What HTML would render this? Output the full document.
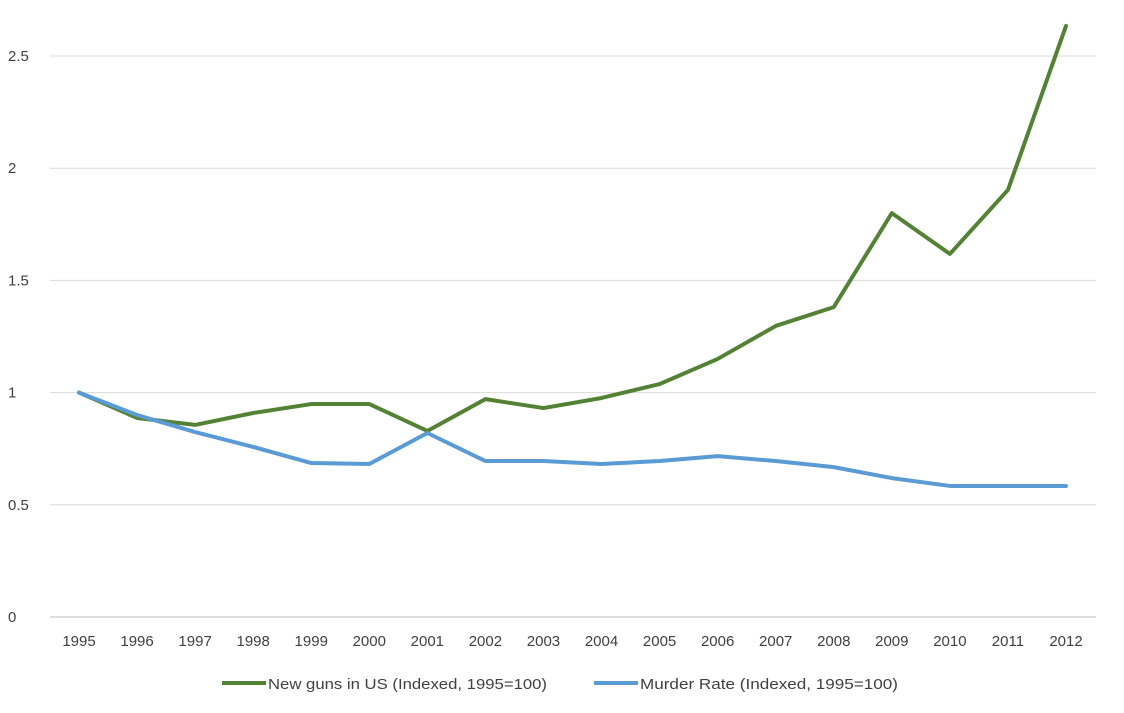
<!DOCTYPE html>
<html><head><meta charset="utf-8"><style>
html,body{margin:0;padding:0;background:#fff;}
svg{display:block;font-family:"Liberation Sans",sans-serif;}
</style></head><body>
<svg id="chart" width="1124" height="713" viewBox="0 0 1124 713" xmlns="http://www.w3.org/2000/svg">
<g id="grid"></g>
<g id="yaxis"></g>
<g id="xaxis"></g>
<g id="series"></g>
<g id="legend">
<g>
<line x1="222" y1="683" x2="266" y2="683" stroke="#548235" stroke-width="4"/>
<text x="268" y="689" font-size="15" fill="#404040" textLength="279" lengthAdjust="spacingAndGlyphs">New guns in US (Indexed, 1995=100)</text></g>
<g>
<line x1="594" y1="683" x2="638" y2="683" stroke="#5B9BD5" stroke-width="4"/>
<text x="640" y="689" font-size="15" fill="#404040" textLength="258" lengthAdjust="spacingAndGlyphs">Murder Rate (Indexed, 1995=100)</text></g>
</g>
</svg>
<script>
const categories=["1995","1996","1997","1998","1999","2000","2001","2002","2003","2004","2005","2006","2007","2008","2009","2010","2011","2012"];
const newGuns=[1.0,0.887,0.856,0.909,0.949,0.949,0.829,0.971,0.931,0.976,1.038,1.15,1.297,1.381,1.8,1.618,1.903,2.634];
const murderRate=[1.0,0.9,0.824,0.758,0.686,0.682,0.82,0.695,0.695,0.682,0.695,0.717,0.695,0.668,0.619,0.584,0.584,0.584];
const yTicks=[0,0.5,1,1.5,2,2.5];
const yTickLabels=["0","0.5","1","1.5","2","2.5"];
const NS="http://www.w3.org/2000/svg";
const x0=79,x1=1066,yBase=617,pxPerUnit=224.4;
function xScale(i){return x0+(x1-x0)*i/(categories.length-1);}
function yScale(v){return yBase-v*pxPerUnit;}
function mk(tag,attrs,parent){const e=document.createElementNS(NS,tag);for(const k in attrs)e.setAttribute(k,attrs[k]);parent.appendChild(e);return e;}
const grid=document.getElementById('grid'),ya=document.getElementById('yaxis'),xa=document.getElementById('xaxis'),se=document.getElementById('series');
yTicks.forEach((t,i)=>{
  const l=mk('line',{x1:50,x2:1096,y1:yScale(t),y2:yScale(t),stroke:t===0?'#BFBFBF':'#D9D9D9','stroke-width':1},grid);
  
  
  const tx=mk('text',{x:8,y:yScale(t)+5,'font-size':15,fill:'#404040'},ya);
  tx.textContent=yTickLabels[i];
  
  
});
categories.forEach((c,i)=>{
  const tx=mk('text',{x:xScale(i),y:646,'font-size':15,fill:'#404040','text-anchor':'middle'},xa);
  tx.textContent=c;
  
  
});
function drawLine(vals,color,name){
  const p=mk('polyline',{points:vals.map((v,i)=>xScale(i)+','+yScale(v)).join(' '),fill:'none',stroke:color,'stroke-width':4,'stroke-linejoin':'round','stroke-linecap':'round'},se);
  
  
}
drawLine(newGuns,'#548235','new-guns-line');
drawLine(murderRate,'#5B9BD5','murder-rate-line');
</script>
</body></html>
